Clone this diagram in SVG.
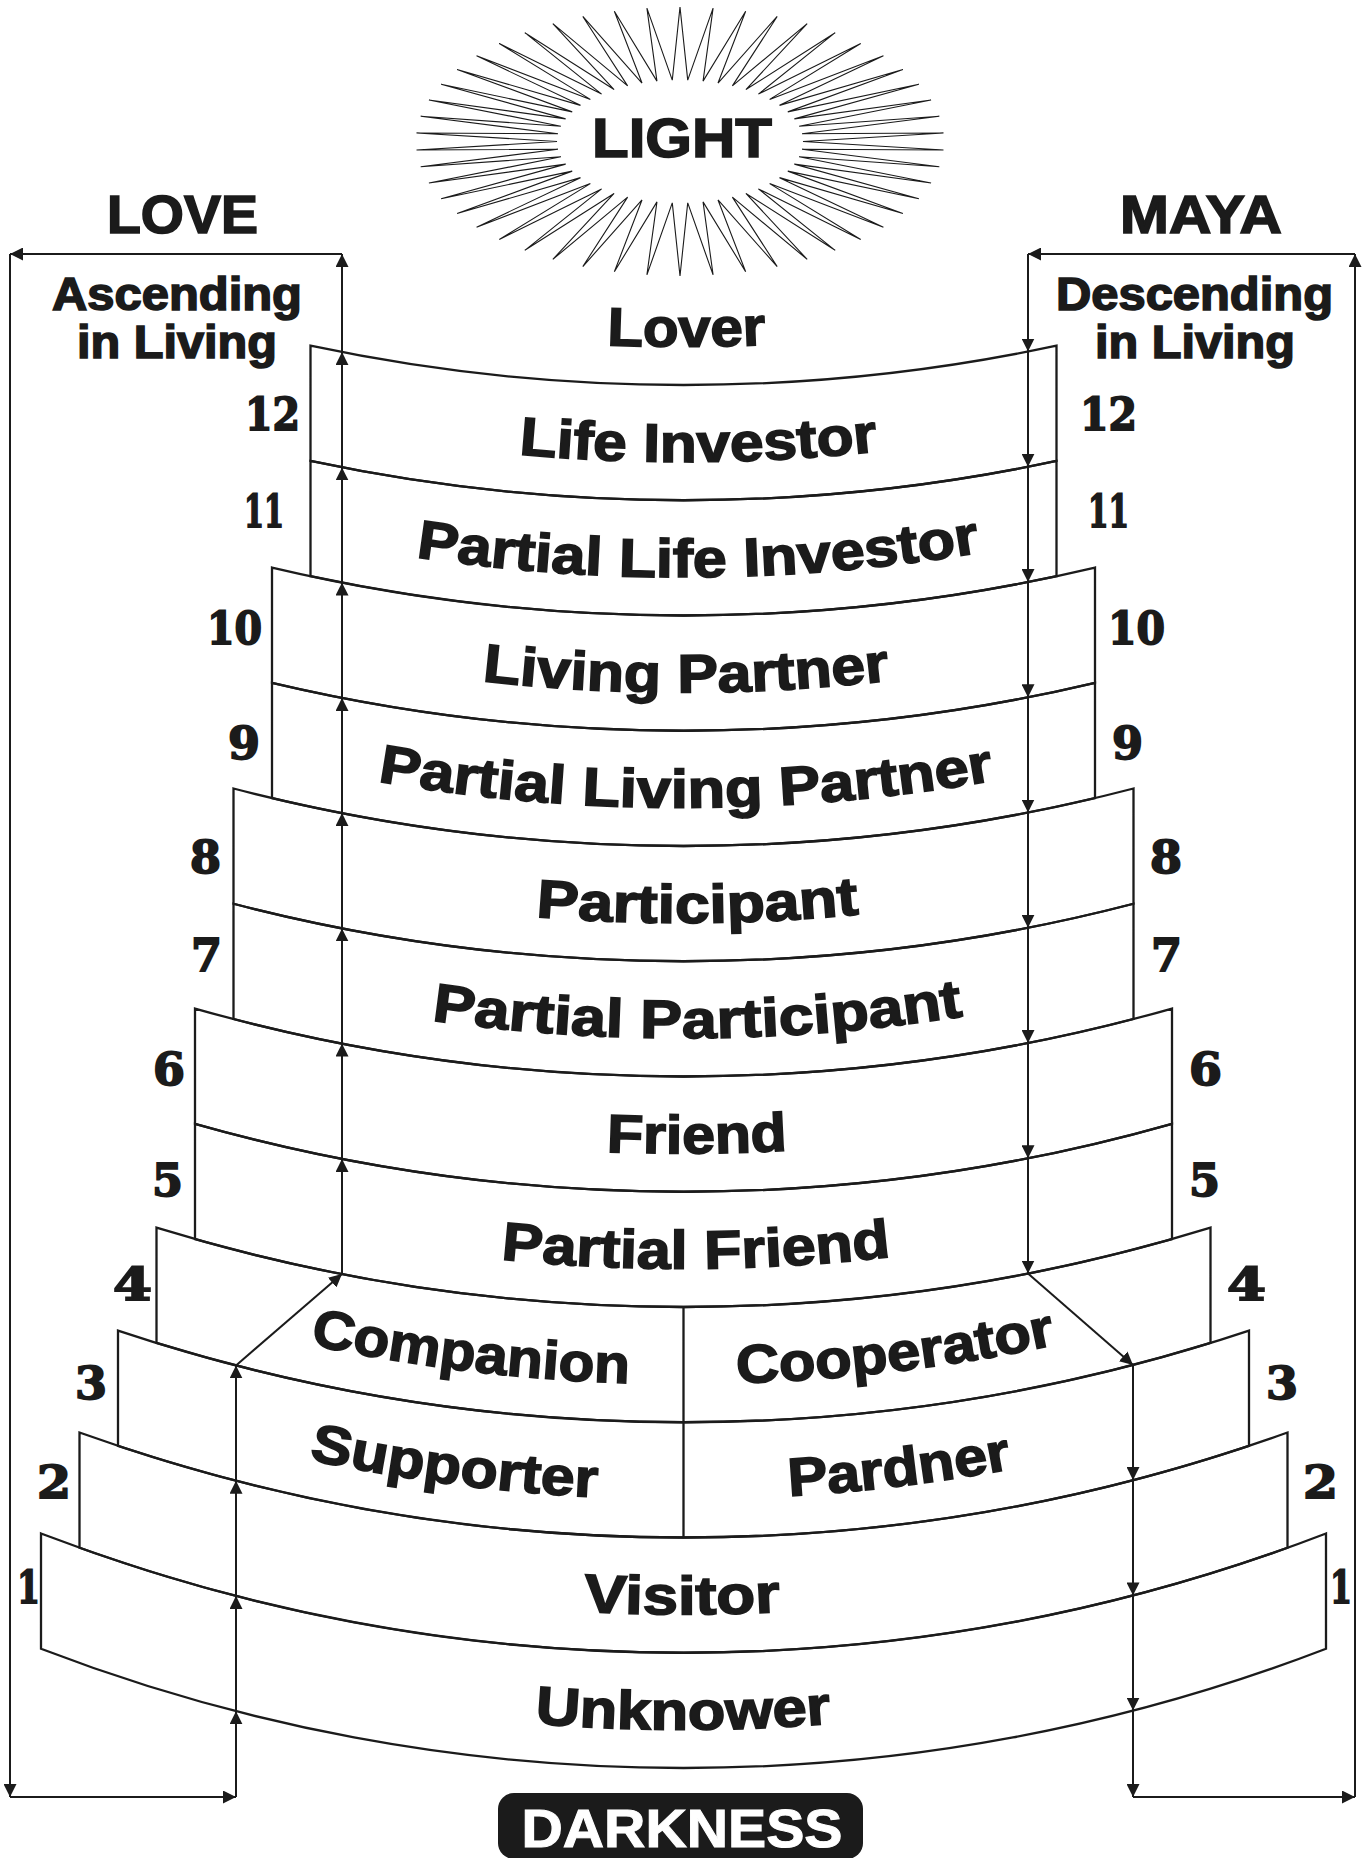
<svg xmlns="http://www.w3.org/2000/svg" width="1370" height="1858" viewBox="0 0 1370 1858">
<style>
.lbl{font-family:"Liberation Sans",Arial,sans-serif;font-weight:bold;font-size:54px;fill:#1b1b1b;stroke:#1b1b1b;stroke-width:1.6px}
.hdr{font-family:"Liberation Sans",Arial,sans-serif;font-weight:bold;fill:#1b1b1b;stroke:#1b1b1b;stroke-width:1.6px;text-anchor:middle}
.num{font-family:"DejaVu Serif",serif;font-weight:bold;font-size:44px;fill:#1b1b1b;stroke:#1b1b1b;stroke-width:1.8px}
.band{fill:none;stroke:#1b1b1b;stroke-width:2.3}
.conn line{stroke:#1b1b1b;stroke-width:2;marker-end:url(#ah)}
.ray{fill:#fff;stroke:#1b1b1b;stroke-width:1.1}
</style>
<defs>
<marker id="ah" viewBox="0 0 13 13" refX="13" refY="6.5" markerWidth="13" markerHeight="13" markerUnits="userSpaceOnUse" orient="auto"><path d="M0,0 L13,6.5 L0,13 Z" fill="#1b1b1b"/></marker>
<path id="p-lover" d="M608,345.16 A1790,1790 0 0 0 765,344.89"/>
<path id="p-li" d="M520,454.52 A1790,1790 0 0 0 877,451.52"/>
<path id="p-pli" d="M417,557.30 A1790,1790 0 0 0 979,552.69"/>
<path id="p-lp" d="M483,681.24 A1790,1790 0 0 0 889,680.67"/>
<path id="p-plp" d="M379,781.65 A1790,1790 0 0 0 993,780.79"/>
<path id="p-part" d="M537,917.00 A1790,1790 0 0 0 858,914.47"/>
<path id="p-ppart" d="M433,1020.63 A1790,1790 0 0 0 962,1016.45"/>
<path id="p-friend" d="M608,1151.91 A1790,1790 0 0 0 786,1150.56"/>
<path id="p-pf" d="M502,1259.52 A1790,1790 0 0 0 890,1256.80"/>
<path id="p-comp" d="M311,1344.81 A1790,1790 0 0 0 628,1383.14"/>
<path id="p-coop" d="M738,1383.17 A1790,1790 0 0 0 1055,1345.02"/>
<path id="p-supp" d="M310,1459.85 A1790,1790 0 0 0 596,1497.11"/>
<path id="p-pard" d="M790,1496.08 A1790,1790 0 0 0 1011,1469.04"/>
<path id="p-vis" d="M585,1611.79 A1790,1790 0 0 0 779,1611.95"/>
<path id="p-unk" d="M536,1723.67 A1790,1790 0 0 0 830,1723.75"/>
</defs>
<rect width="1370" height="1858" fill="#fff"/>

<g id="light">
<polygon class="ray" points="680,7 672.28,80.12 646.91,8.06 656.95,81.09 614.35,11.23 641.99,83.01 582.81,16.44 627.63,85.85 552.82,23.64 614.09,89.57 524.82,32.69 601.60,94.11 499.28,43.45 590.34,99.40 476.58,55.77 580.49,105.35 457.10,69.43 572.21,111.87 441.13,84.23 565.64,118.86 428.92,99.94 560.86,126.21 420.68,116.30 557.97,133.79 416.52,133.05 557,141.5 416.52,149.95 557.97,149.21 420.68,166.70 560.86,156.79 428.92,183.06 565.64,164.14 441.13,198.77 572.21,171.13 457.10,213.57 580.49,177.65 476.58,227.23 590.34,183.60 499.28,239.55 601.60,188.89 524.82,250.31 614.09,193.43 552.82,259.36 627.63,197.15 582.81,266.56 641.99,199.99 614.35,271.77 656.95,201.91 646.91,274.94 672.28,202.88 680,276 687.72,202.88 713.09,274.94 703.05,201.91 745.65,271.77 718.01,199.99 777.19,266.56 732.37,197.15 807.18,259.36 745.91,193.43 835.18,250.31 758.40,188.89 860.72,239.55 769.66,183.60 883.42,227.23 779.51,177.65 902.90,213.57 787.79,171.13 918.87,198.77 794.36,164.14 931.08,183.06 799.14,156.79 939.32,166.70 802.03,149.21 943.48,149.95 803,141.5 943.48,133.05 802.03,133.79 939.32,116.30 799.14,126.21 931.08,99.94 794.36,118.86 918.87,84.23 787.79,111.87 902.90,69.43 779.51,105.35 883.42,55.77 769.66,99.40 860.72,43.45 758.40,94.11 835.18,32.69 745.91,89.57 807.18,23.64 732.37,85.85 777.19,16.44 718.01,83.01 745.65,11.23 703.05,81.09 713.09,8.06 687.72,80.12"/>
<text class="hdr" x="682" y="157" font-size="56" textLength="180" lengthAdjust="spacingAndGlyphs">LIGHT</text>
</g>

<g id="love">
<text class="hdr" x="182.5" y="233" font-size="53" textLength="151" lengthAdjust="spacingAndGlyphs">LOVE</text>
<text class="hdr" x="177" y="310" font-size="46" textLength="250" lengthAdjust="spacingAndGlyphs">Ascending</text>
<text class="hdr" x="177" y="358" font-size="46" textLength="200" lengthAdjust="spacingAndGlyphs">in Living</text>
</g>
<g id="maya">
<text class="hdr" x="1201" y="233" font-size="53" textLength="162" lengthAdjust="spacingAndGlyphs">MAYA</text>
<text class="hdr" x="1194.5" y="310" font-size="46" textLength="277" lengthAdjust="spacingAndGlyphs">Descending</text>
<text class="hdr" x="1195" y="358" font-size="46" textLength="200" lengthAdjust="spacingAndGlyphs">in Living</text>
</g>

<g id="lover">
<text class="lbl"><textPath href="#p-lover" startOffset="50%" text-anchor="middle" textLength="159" lengthAdjust="spacingAndGlyphs">Lover</textPath></text>
</g>

<g id="level-12">
<path class="band" d="M310.5,345.71 A1790,1790 0 0 0 1056.5,345.71 L1056.5,460.96 A1790,1790 0 0 1 310.5,460.96 Z"/>
<text class="lbl"><textPath href="#p-li" startOffset="50%" text-anchor="middle" textLength="360" lengthAdjust="spacingAndGlyphs">Life Investor</textPath></text>
<text class="num" x="245" y="430" textLength="55" lengthAdjust="spacingAndGlyphs">12</text>
<text class="num" x="1080" y="430" textLength="57" lengthAdjust="spacingAndGlyphs">12</text>
</g>
<g id="level-11">
<path class="band" d="M310.5,460.96 A1790,1790 0 0 0 1056.5,460.96 L1056.5,576.21 A1790,1790 0 0 1 310.5,576.21 Z"/>
<text class="lbl"><textPath href="#p-pli" startOffset="50%" text-anchor="middle" textLength="567" lengthAdjust="spacingAndGlyphs">Partial Life Investor</textPath></text>
<text class="num" x="244" y="527" textLength="40" lengthAdjust="spacingAndGlyphs">11</text>
<text class="num" x="1088" y="527" textLength="41" lengthAdjust="spacingAndGlyphs">11</text>
</g>
<g id="level-10">
<path class="band" d="M272,567.56 A1790,1790 0 0 0 1095,567.56 L1095,682.81 A1790,1790 0 0 1 272,682.81 Z"/>
<text class="lbl"><textPath href="#p-lp" startOffset="50%" text-anchor="middle" textLength="409" lengthAdjust="spacingAndGlyphs">Living Partner</textPath></text>
<text class="num" x="207" y="644" textLength="55" lengthAdjust="spacingAndGlyphs">10</text>
<text class="num" x="1108" y="644" textLength="57" lengthAdjust="spacingAndGlyphs">10</text>
</g>
<g id="level-9">
<path class="band" d="M272,682.81 A1790,1790 0 0 0 1095,682.81 L1095,798.06 A1790,1790 0 0 1 272,798.06 Z"/>
<text class="lbl"><textPath href="#p-plp" startOffset="50%" text-anchor="middle" textLength="620" lengthAdjust="spacingAndGlyphs">Partial Living Partner</textPath></text>
<text class="num" x="228" y="759" textLength="32" lengthAdjust="spacingAndGlyphs">9</text>
<text class="num" x="1112" y="759" textLength="31" lengthAdjust="spacingAndGlyphs">9</text>
</g>
<g id="level-8">
<path class="band" d="M233.5,788.51 A1790,1790 0 0 0 1133.5,788.51 L1133.5,903.76 A1790,1790 0 0 1 233.5,903.76 Z"/>
<text class="lbl"><textPath href="#p-part" startOffset="50%" text-anchor="middle" textLength="324" lengthAdjust="spacingAndGlyphs">Participant</textPath></text>
<text class="num" x="190" y="873" textLength="31" lengthAdjust="spacingAndGlyphs">8</text>
<text class="num" x="1150" y="873" textLength="32" lengthAdjust="spacingAndGlyphs">8</text>
</g>
<g id="level-7">
<path class="band" d="M233.5,903.76 A1790,1790 0 0 0 1133.5,903.76 L1133.5,1019.01 A1790,1790 0 0 1 233.5,1019.01 Z"/>
<text class="lbl"><textPath href="#p-ppart" startOffset="50%" text-anchor="middle" textLength="534" lengthAdjust="spacingAndGlyphs">Partial Participant</textPath></text>
<text class="num" x="191" y="971" textLength="31" lengthAdjust="spacingAndGlyphs">7</text>
<text class="num" x="1151" y="971" textLength="31" lengthAdjust="spacingAndGlyphs">7</text>
</g>
<g id="level-6">
<path class="band" d="M195,1008.55 A1790,1790 0 0 0 1172,1008.55 L1172,1123.8 A1790,1790 0 0 1 195,1123.8 Z"/>
<text class="lbl"><textPath href="#p-friend" startOffset="50%" text-anchor="middle" textLength="181" lengthAdjust="spacingAndGlyphs">Friend</textPath></text>
<text class="num" x="153" y="1085" textLength="32" lengthAdjust="spacingAndGlyphs">6</text>
<text class="num" x="1189" y="1085" textLength="33" lengthAdjust="spacingAndGlyphs">6</text>
</g>
<g id="level-5">
<path class="band" d="M195,1123.8 A1790,1790 0 0 0 1172,1123.8 L1172,1239.05 A1790,1790 0 0 1 195,1239.05 Z"/>
<text class="lbl"><textPath href="#p-pf" startOffset="50%" text-anchor="middle" textLength="391" lengthAdjust="spacingAndGlyphs">Partial Friend</textPath></text>
<text class="num" x="152" y="1196" textLength="31" lengthAdjust="spacingAndGlyphs">5</text>
<text class="num" x="1189" y="1196" textLength="31" lengthAdjust="spacingAndGlyphs">5</text>
</g>
<g id="level-4">
<path class="band" d="M156.5,1227.66 A1790,1790 0 0 0 1210.5,1227.66 L1210.5,1342.91 A1790,1790 0 0 1 156.5,1342.91 Z M683.5,1307 V1422.25"/>
<text class="lbl"><textPath href="#p-comp" startOffset="50%" text-anchor="middle" textLength="322" lengthAdjust="spacingAndGlyphs">Companion</textPath></text>
<text class="lbl"><textPath href="#p-coop" startOffset="50%" text-anchor="middle" textLength="322" lengthAdjust="spacingAndGlyphs">Cooperator</textPath></text>
<text class="num" x="113" y="1300" textLength="39" lengthAdjust="spacingAndGlyphs">4</text>
<text class="num" x="1227" y="1300" textLength="39" lengthAdjust="spacingAndGlyphs">4</text>
</g>
<g id="level-3">
<path class="band" d="M118,1330.58 A1790,1790 0 0 0 1249,1330.58 L1249,1445.83 A1790,1790 0 0 1 118,1445.83 Z M683.5,1422.25 V1537.5"/>
<text class="lbl"><textPath href="#p-supp" startOffset="50%" text-anchor="middle" textLength="291" lengthAdjust="spacingAndGlyphs">Supporter</textPath></text>
<text class="lbl"><textPath href="#p-pard" startOffset="50%" text-anchor="middle" textLength="225" lengthAdjust="spacingAndGlyphs">Pardner</textPath></text>
<text class="num" x="75" y="1399" textLength="32" lengthAdjust="spacingAndGlyphs">3</text>
<text class="num" x="1266" y="1399" textLength="32" lengthAdjust="spacingAndGlyphs">3</text>
</g>
<g id="level-2">
<path class="band" d="M79.5,1432.52 A1790,1790 0 0 0 1287.5,1432.52 L1287.5,1547.77 A1790,1790 0 0 1 79.5,1547.77 Z"/>
<text class="lbl"><textPath href="#p-vis" startOffset="50%" text-anchor="middle" textLength="197" lengthAdjust="spacingAndGlyphs">Visitor</textPath></text>
<text class="num" x="37" y="1498" textLength="34" lengthAdjust="spacingAndGlyphs">2</text>
<text class="num" x="1303" y="1498" textLength="35" lengthAdjust="spacingAndGlyphs">2</text>
</g>
<g id="level-1">
<path class="band" d="M41,1533.47 A1790,1790 0 0 0 1326,1533.47 L1326,1648.72 A1790,1790 0 0 1 41,1648.72 Z"/>
<text class="lbl"><textPath href="#p-unk" startOffset="50%" text-anchor="middle" textLength="297" lengthAdjust="spacingAndGlyphs">Unknower</textPath></text>
<text class="num" x="17" y="1603" textLength="23" lengthAdjust="spacingAndGlyphs">1</text>
<text class="num" x="1330" y="1603" textLength="22" lengthAdjust="spacingAndGlyphs">1</text>
</g>

<g id="darkness">
<rect x="498" y="1793" width="365" height="66" rx="16" fill="#1b1b1b"/>
<text class="hdr" x="682" y="1847" font-size="53" textLength="321" lengthAdjust="spacingAndGlyphs" style="fill:#fff;stroke:#fff;stroke-width:1">DARKNESS</text>
</g>

<g id="connectors" class="conn">
<line x1="236" y1="1797" x2="236" y2="1711.2"/>
<line x1="236" y1="1711.2" x2="236" y2="1595.9"/>
<line x1="236" y1="1595.9" x2="236" y2="1480.7"/>
<line x1="236" y1="1480.7" x2="236" y2="1365.4"/>
<line x1="236" y1="1365.4" x2="342" y2="1274.1"/>
<line x1="342" y1="1274.1" x2="342" y2="1158.9"/>
<line x1="342" y1="1158.9" x2="342" y2="1043.6"/>
<line x1="342" y1="1043.6" x2="342" y2="928.4"/>
<line x1="342" y1="928.4" x2="342" y2="813.1"/>
<line x1="342" y1="813.1" x2="342" y2="697.9"/>
<line x1="342" y1="697.9" x2="342" y2="582.6"/>
<line x1="342" y1="582.6" x2="342" y2="467.4"/>
<line x1="342" y1="467.4" x2="342" y2="352.1"/>
<line x1="342" y1="352.1" x2="342" y2="254"/>
<line x1="342" y1="254" x2="10" y2="254"/>
<line x1="10" y1="254" x2="10" y2="1797"/>
<line x1="10" y1="1797" x2="236" y2="1797"/>
<line x1="1028" y1="254" x2="1028" y2="351.5"/>
<line x1="1028" y1="351.5" x2="1028" y2="466.8"/>
<line x1="1028" y1="466.8" x2="1028" y2="582"/>
<line x1="1028" y1="582" x2="1028" y2="697.3"/>
<line x1="1028" y1="697.3" x2="1028" y2="812.5"/>
<line x1="1028" y1="812.5" x2="1028" y2="927.8"/>
<line x1="1028" y1="927.8" x2="1028" y2="1043"/>
<line x1="1028" y1="1043" x2="1028" y2="1158.3"/>
<line x1="1028" y1="1158.3" x2="1028" y2="1273.5"/>
<line x1="1028" y1="1273.5" x2="1133" y2="1364.9"/>
<line x1="1133" y1="1364.9" x2="1133" y2="1480.1"/>
<line x1="1133" y1="1480.1" x2="1133" y2="1595.4"/>
<line x1="1133" y1="1595.4" x2="1133" y2="1710.6"/>
<line x1="1133" y1="1710.6" x2="1133" y2="1797"/>
<line x1="1133" y1="1797" x2="1355" y2="1797"/>
<line x1="1355" y1="1797" x2="1355" y2="254"/>
<line x1="1355" y1="254" x2="1028" y2="254"/>
</g>
</svg>
